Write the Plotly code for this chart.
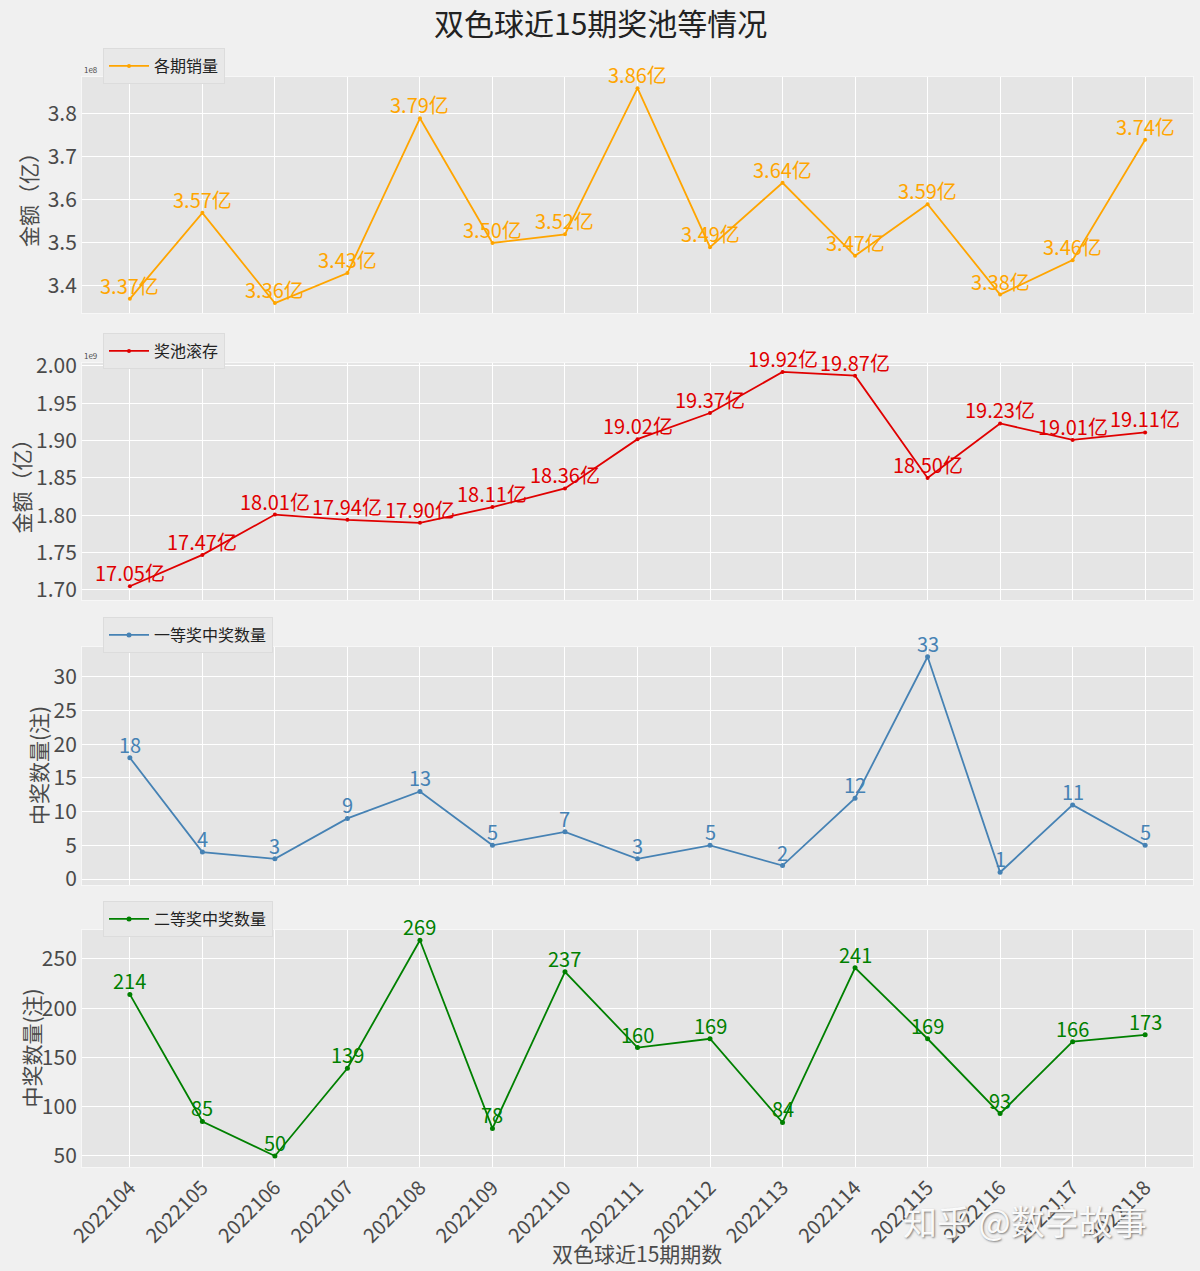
import plotly.graph_objects as go

periods = ["2022104", "2022105", "2022106", "2022107", "2022108", "2022109", "2022110",
           "2022111", "2022112", "2022113", "2022114", "2022115", "2022116", "2022117", "2022118"]
sales_yi = [3.37, 3.57, 3.36, 3.43, 3.79, 3.50, 3.52, 3.86, 3.49, 3.64, 3.47, 3.59, 3.38, 3.46, 3.74]
pool_yi = [17.05, 17.47, 18.01, 17.94, 17.90, 18.11, 18.36, 19.02, 19.37, 19.92, 19.87, 18.50, 19.23, 19.01, 19.11]
first_prize = [18, 4, 3, 9, 13, 5, 7, 3, 5, 2, 12, 33, 1, 11, 5]
second_prize = [214, 85, 50, 139, 269, 78, 237, 160, 169, 84, 241, 169, 93, 166, 173]

W, H = 1200, 1271
FONT = "Noto Sans CJK SC"
TXT = "#4a4a4a"

def py(px):
    return 1 - px / H

x_dom = [82 / W, 1193 / W]
panels = [
    dict(name="各期销量", color="orange", y=sales_yi, labels=[f"{v:.2f}亿" for v in sales_yi],
         dom=[py(313), py(77)], rng=[3.337, 3.886], dtick=0.1, fmt=".1f",
         ytitle="金额（亿）", ytx=28, mult="1e8", leg_top=48),
    dict(name="奖池滚存", color="#e00000", y=[v / 10 for v in pool_yi], labels=[f"{v:.2f}亿" for v in pool_yi],
         dom=[py(600), py(363)], rng=[1.6866, 2.004], dtick=0.05, fmt=".2f",
         ytitle="金额（亿）", ytx=20, mult="1e9", leg_top=333),
    dict(name="一等奖中奖数量", color="#4682b4", y=first_prize, labels=[str(v) for v in first_prize],
         dom=[py(885), py(647)], rng=[-0.89, 34.45], dtick=5, fmt="d",
         ytitle="中奖数量(注)", ytx=38, mult=None, leg_top=617),
    dict(name="二等奖中奖数量", color="green", y=second_prize, labels=[str(v) for v in second_prize],
         dom=[py(1167), py(930)], rng=[38.8, 279.4], dtick=50, fmt="d",
         ytitle="中奖数量(注)", ytx=30, mult=None, leg_top=901),
]

fig = go.Figure()
idx = list(range(len(periods)))
layout = dict(
    width=W, height=H,
    paper_bgcolor="#f0f0f0", plot_bgcolor="#e5e5e5",
    margin=dict(l=0, r=0, t=0, b=0),
    showlegend=True,
    font=dict(family=FONT, color=TXT),
)
annotations = []
for i, p in enumerate(panels):
    n = i + 1
    xa = "x" if n == 1 else f"x{n}"
    ya = "y" if n == 1 else f"y{n}"
    leg = "legend" if n == 1 else f"legend{n}"
    fig.add_trace(go.Scatter(
        x=idx, y=p["y"], mode="lines+markers", name=p["name"],
        line=dict(color=p["color"], width=1.8),
        marker=dict(color=p["color"], size=5 if n >= 3 else 4),
        xaxis=xa, yaxis=ya, legend=leg, hoverinfo="skip",
    ))
    xkey = "xaxis" if n == 1 else f"xaxis{n}"
    ykey = "yaxis" if n == 1 else f"yaxis{n}"
    layout[xkey] = dict(
        domain=x_dom, anchor=ya, range=[-0.66, 14.66],
        tickmode="array", tickvals=idx, ticktext=periods,
        showticklabels=(n == 4), tickangle=-45,
        tickfont=dict(size=20, color=TXT, family=FONT),
        showgrid=True, gridcolor="white", gridwidth=1.2,
        zeroline=False, showline=True, linecolor="#f7f7f7", mirror=True,
        ticks="", automargin=False,
    )
    if n != 1:
        layout[xkey]["matches"] = "x"
    layout[ykey] = dict(
        domain=p["dom"], anchor=xa, range=p["rng"], dtick=p["dtick"], tickformat=p["fmt"],
        tickfont=dict(size=21, color=TXT, family=FONT),
        showgrid=True, gridcolor="white", gridwidth=1.2,
        zeroline=False, showline=True, linecolor="#f7f7f7", mirror=True,
        ticks="", automargin=False,
    )
    layout[leg] = dict(
        x=103 / W, y=py(p["leg_top"]), xanchor="left", yanchor="top",
        bgcolor="#e8e8e8", bordercolor="#dcdcdc", borderwidth=1,
        itemwidth=40,
        font=dict(size=16, color="#222222", family=FONT),
    )
    for k, (v, t) in enumerate(zip(p["y"], p["labels"])):
        annotations.append(dict(
            x=k, y=v, xref=xa, yref=ya, text=t, showarrow=False,
            yanchor="bottom", xanchor="center", yshift=-3,
            font=dict(size=20, color=p["color"], family=FONT),
        ))
    ymid = (p["dom"][0] + p["dom"][1]) / 2
    annotations.append(dict(
        x=p["ytx"] / W, y=ymid, xref="paper", yref="paper", text=p["ytitle"],
        textangle=-90, showarrow=False, xanchor="center", yanchor="middle",
        font=dict(size=21, color=TXT, family=FONT),
    ))
    if p["mult"]:
        annotations.append(dict(
            x=82 / W, y=p["dom"][1], xref="paper", yref="paper", text=p["mult"],
            showarrow=False, xanchor="left", yanchor="bottom",
            font=dict(size=8, color=TXT, family=FONT),
        ))

annotations.append(dict(
    x=0.5, y=py(22), xref="paper", yref="paper", text="双色球近15期奖池等情况",
    showarrow=False, xanchor="center", yanchor="middle",
    font=dict(size=30, color="#222222", family=FONT),
))
annotations.append(dict(
    x=637 / W, y=py(1253), xref="paper", yref="paper", text="双色球近15期期数",
    showarrow=False, xanchor="center", yanchor="middle",
    font=dict(size=21, color=TXT, family=FONT),
))
annotations.append(dict(
    x=1025 / W, y=py(1220), xref="paper", yref="paper", text="知乎 @数字故事",
    showarrow=False, xanchor="center", yanchor="middle",
    font=dict(size=34, color="rgba(255,255,255,0.95)", family=FONT, shadow="1px 1px 2px #777"),
))
layout["annotations"] = annotations
fig.update_layout(**layout)
fig.write_html("out.html", config={"displayModeBar": False},
               post_script="document.body.style.margin='0px';document.body.style.overflow='hidden';")
